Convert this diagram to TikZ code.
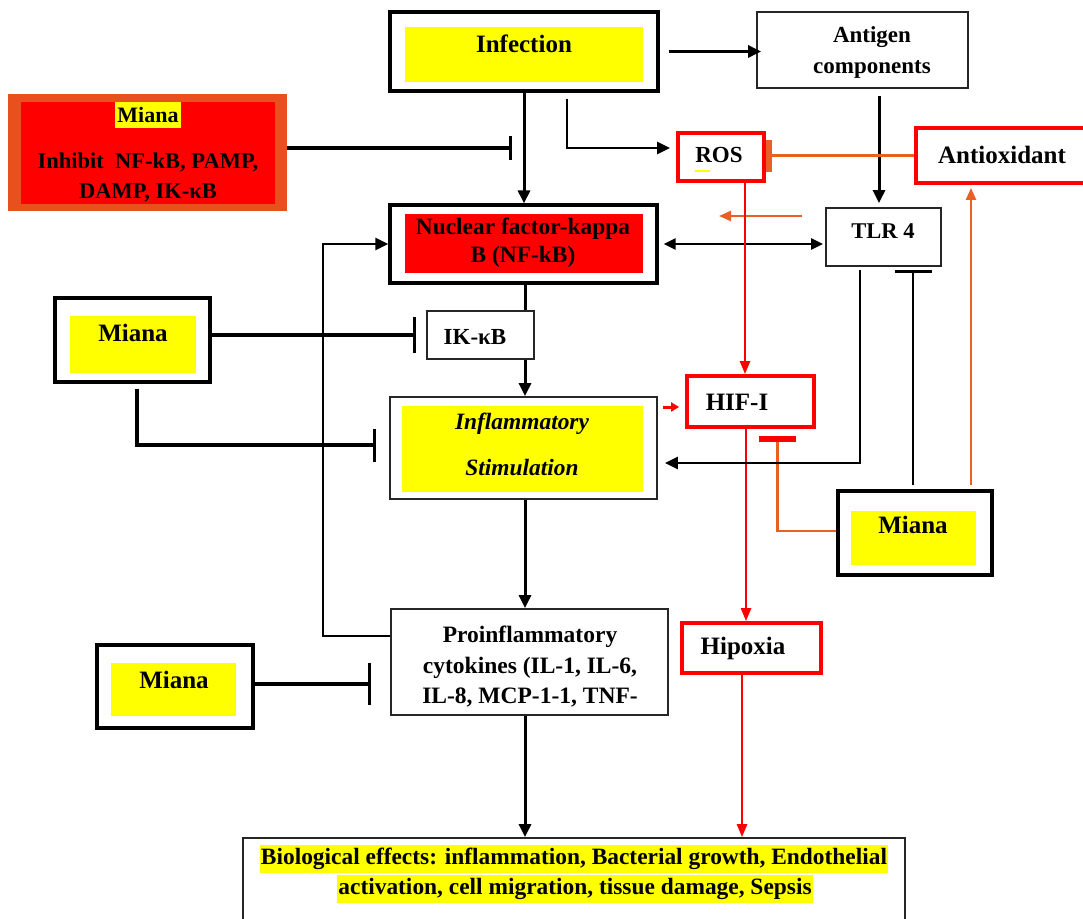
\documentclass[tikz,border=0pt]{standalone}
\usepackage{fontspec}
\setmainfont{Liberation Serif}
\usetikzlibrary{arrows.meta,fit}
\definecolor{orng}{RGB}{232,96,36}
\definecolor{orngbox}{RGB}{232,80,30}
\definecolor{yel}{RGB}{255,255,0}
\definecolor{rd}{RGB}{255,0,0}
\newcommand{\myfs}[2]{\fontsize{#1pt}{#2pt}\selectfont}
\begin{document}
\begin{tikzpicture}[x=1pt,y=-1pt,
  thickbox/.style={draw=black, line width=3.2pt, inner sep=0pt},
  thinbox/.style={draw=black!85, line width=1.8pt, inner sep=0pt},
  redbox/.style={draw=rd, line width=3.8pt, inner sep=0pt},
  lbl/.style={inner sep=0pt, align=center},
  arr/.style={draw=black, line width=3pt, -{Triangle[length=13pt,width=12pt]}},
  dbl/.style={draw=black, line width=2.3pt, {Triangle[length=12pt,width=11pt]}-{Triangle[length=12pt,width=11pt]}},
  arrR/.style={draw=rd, line width=2.6pt, -{Triangle[length=13pt,width=10pt]}},
  arrO/.style={draw=orng, line width=2.4pt, -{Triangle[length=12pt,width=10pt]}},
  inh/.style={draw=black, line width=3.3pt, -{Bar[width=#1]}},
  plain/.style={draw=black, line width=3pt}
]
\useasboundingbox (0,0) rectangle (1083,918);
\clip (0,0) rectangle (1083,918);

% Infection
\node[fit={(390,12)(658,91)}, thickbox] (inf) {};
\fill[yel] (405,27) rectangle (643,82);
\node[lbl, font=\bfseries\myfs{25}{30}] at (524,44) {Infection};

% Antigen components
\node[fit={(757,12)(968,88)}, thinbox] (ant) {};
\node[lbl, font=\bfseries\myfs{23}{31}] at (872,52) {Antigen\\components};

% Miana top-left
\fill[orngbox] (8,94) rectangle (287,211);
\fill[rd] (21,102) rectangle (275,204);
\node[fit={(8,94)(287,211)}, inner sep=0pt] (mA) {};
\node[lbl, fill=yel, inner xsep=2pt, inner ysep=5pt, font=\bfseries\myfs{22}{26}] at (148,115) {Miana};
\node[lbl, font=\bfseries\myfs{22.5}{30}] at (148,177) {Inhibit\ \ NF-kB, PAMP,\\DAMP, IK-κB};

% NF-kB
\node[fit={(390,205)(657,283)}, thickbox] (nf) {};
\fill[rd] (405,214) rectangle (643,273);
\node[lbl, font=\bfseries\myfs{23.4}{28}] at (523,243) {Nuclear factor-kappa\\B (NF-kB)};

% ROS
\node[fit={(678,133)(764,181)}, redbox] (ros) {};
\node[lbl, font=\bfseries\myfs{23}{28}] at (719,155) {ROS};
\draw[yel, line width=1.2pt] (695,171) -- (710,171);

% Antioxidant
\node[fit={(916,128)(1090,183)}, redbox] (aox) {};
\node[lbl, font=\bfseries\myfs{25}{30}] at (1002,155) {Antioxidant};

% TLR 4
\node[fit={(826,208)(941,266)}, thinbox] (tlr) {};
\node[lbl, font=\bfseries\myfs{22.5}{27}] at (883,231) {TLR 4};

% IK-kB
\node[fit={(427,311)(534,359)}, thinbox] (ikb) {};
\node[lbl, font=\bfseries\myfs{23}{28}] at (475,337) {IK-κB};

% Inflammatory stimulation
\node[fit={(390,397)(657,499)}, thinbox] (infl) {};
\fill[yel] (402,406) rectangle (643,492);
\node[lbl, font=\bfseries\itshape\myfs{23.4}{46}] at (522,444) {Inflammatory\\Stimulation};

% Miana mid-left
\node[fit={(55,298)(210,382)}, thickbox] (mB) {};
\fill[yel] (70,316) rectangle (196,373);
\node[lbl, font=\bfseries\myfs{25}{30}] at (133,333) {Miana};

% HIF-I
\node[fit={(687,376)(814,427)}, redbox] (hif) {};
\node[lbl, font=\bfseries\myfs{25}{30}] at (737,402) {HIF-I};

% Miana right
\node[fit={(838,491)(992,575)}, thickbox] (mC) {};
\fill[yel] (851,511) rectangle (976,565);
\node[lbl, font=\bfseries\myfs{25}{30}] at (913,525) {Miana};

% Proinflammatory cytokines
\node[fit={(391,609)(668,715)}, thinbox] (pro) {};
\node[lbl, font=\bfseries\myfs{23.5}{30.5}] at (530,667) {Proinflammatory\\cytokines (IL-1, IL-6,\\IL-8, MCP-1-1, TNF-};

% Hipoxia
\node[fit={(682,623)(821,673)}, redbox] (hip) {};
\node[lbl, font=\bfseries\myfs{25}{30}] at (743,648) {Hipoxia};

% Miana bottom-left
\node[fit={(97,645)(253,728)}, thickbox] (mD) {};
\fill[yel] (111,663) rectangle (236,716);
\node[lbl, font=\bfseries\myfs{25}{30}] at (174,680) {Miana};

% Biological effects
\node[fit={(243,838)(905,930)}, thinbox] (bio) {};
\node[lbl, fill=yel, inner xsep=1pt, inner ysep=3pt, font=\bfseries\myfs{23.4}{28}] at (574,859) {Biological effects: inflammation, Bacterial growth, Endothelial};
\node[lbl, fill=yel, inner xsep=1pt, inner ysep=3pt, font=\bfseries\myfs{23.4}{28}] at (575,889) {activation, cell migration, tissue damage, Sepsis};

% ---------- connectors ----------
\draw[arr, shorten >=4pt] ([xshift=9pt]inf.east) -- ([xshift=9pt]inf.east -| ant.west);
\draw[arr] (inf.south) -- (inf.south |- nf.north);
\draw[arr, line width=2.3pt] ([xshift=43pt,yshift=-6pt]inf.south) |- ([yshift=9pt,xshift=-6pt]ros.west);

\coordinate (tA) at (512,148);
\draw[inh=24pt] (mA.east |- tA) -- (tA);

\draw[dbl, shorten <=5pt, shorten >=2pt] (nf.east) -- (nf.east -| tlr.west);

\coordinate (oa1) at (802,216);
\coordinate (oa2) at (719,216);
\draw[arrO] (oa1) -- (oa2);

\draw[arr] ([xshift=16.5pt,yshift=-7pt]ant.south) -- ([xshift=-4.5pt,yshift=4pt]tlr.north);

\coordinate (rb) at (766,155.5);
\draw[draw=orng, line width=2.4pt, -{Bar[width=32pt,line width=6pt]}] (aox.west) -- (rb);

\draw[arrR] ([xshift=24pt]ros.south) -- ([xshift=24pt]ros.south |- hif.north);
\draw[arrR] ([xshift=-4.5pt]hif.south) -- ([xshift=-4.5pt]hif.south |- hip.north);
\draw[arrR] ([xshift=-9.5pt]hip.south) -- ([xshift=-9.5pt]hip.south |- bio.north);

\path ([yshift=-5.5pt]hif.west) coordinate (hw);
\draw[draw=rd, line width=3pt, -{Triangle[length=8pt,width=9pt]}, shorten <=5pt, shorten >=6pt] (infl.east |- hw) -- (hw);

\coordinate (hb) at (777.5,436);
\draw[draw=orng, line width=2.2pt, -{Bar[width=37pt,line width=5.5pt,color=rd]}] ([yshift=2pt]mC.west) -| (hb);

\draw[arr, line width=2.7pt] ([xshift=-23.5pt,yshift=-3pt]tlr.south) |- ([yshift=-15pt,xshift=7pt]infl.east);

\draw[inh=37pt, line width=2.7pt, shorten >=3pt] ([xshift=-2pt,yshift=4pt]mC.north) -- ([xshift=-2pt]mC.north |- tlr.south);

\draw[arrO, shorten >=3pt] ([xshift=56pt,yshift=4pt]mC.north) -- ([xshift=56pt]mC.north |- aox.south);

\draw[plain] ([xshift=1.5pt]nf.south) -- ([xshift=1.5pt]nf.south |- ikb.north);
\draw[arr] ([xshift=1.5pt]nf.south |- ikb.south) -- ([xshift=1.5pt]nf.south |- infl.north);

\draw[inh=36pt] (mB.east |- ikb.west) -- ([xshift=-10pt]ikb.west);
\draw[inh=33pt] ([xshift=4.5pt,yshift=-5pt]mB.south) |- ([xshift=-13pt,yshift=3pt]infl.west);

\draw[arr, line width=2.7pt] ([yshift=26pt]pro.west) -- ++(-67pt,0pt) |- (nf.west);
\draw[arr] ([xshift=1.5pt]infl.south) -- ([xshift=1.5pt]infl.south |- pro.north);
\draw[inh=42pt] ([yshift=2.5pt]mD.east) -- ([yshift=2.5pt,xshift=-19pt]mD.east -| pro.west);
\draw[arr] ([xshift=-4.5pt]pro.south) -- ([xshift=-4.5pt]pro.south |- bio.north);
\end{tikzpicture}
\end{document}
